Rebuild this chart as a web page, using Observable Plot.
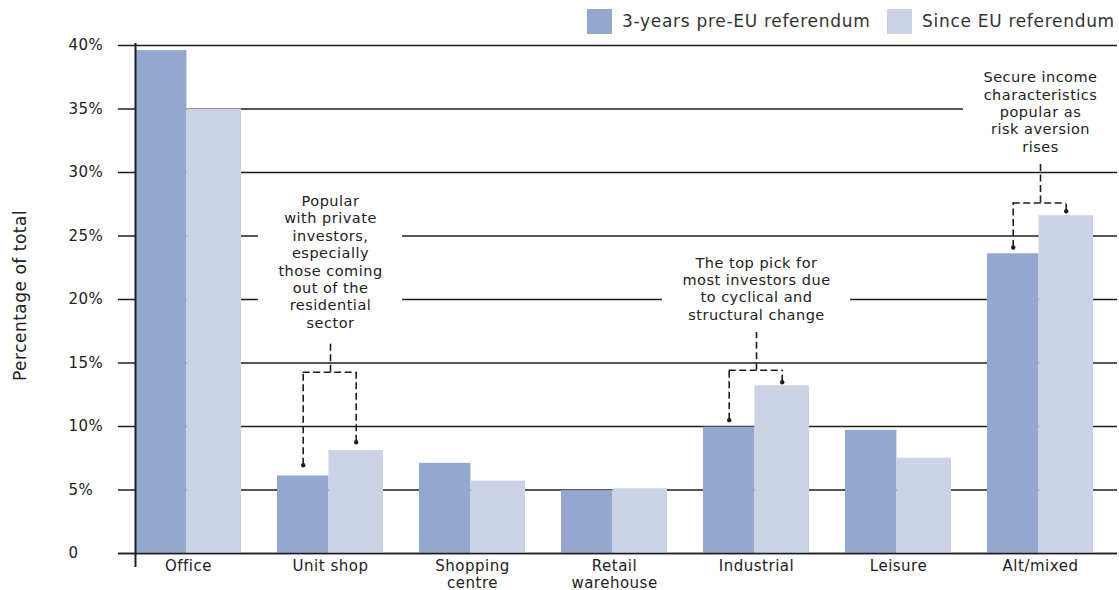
<!DOCTYPE html>
<html>
<head>
<meta charset="utf-8">
<script src="https://cdn.jsdelivr.net/npm/d3@7"></script>
<script src="https://cdn.jsdelivr.net/npm/@observablehq/plot@0.6"></script>
<style>
  body { margin: 0; background: #fff; font-family: "DejaVu Sans", sans-serif; }
  #wrap { position: relative; width: 1119px; height: 590px; }
  #legend { position: absolute; left: 0; top: 0; width: 1119px; height: 40px; z-index: 2; }
  .sw { position: absolute; top: 9px; width: 25px; height: 25px; }
  .lt { position: absolute; top: 9px; line-height: 25px; font-size: 17px; color: #333; letter-spacing: 0.7px; white-space: nowrap; }
  #chart svg text { letter-spacing: 0.5px; }
</style>
</head>
<body>
<div id="wrap">
<div id="chart"></div>
<div id="legend"></div>
</div>
<script>
// ---- data ----
const categories = ["Office", "Unit shop", "Shopping centre", "Retail warehouse", "Industrial", "Leisure", "Alt/mixed"];
const xLabels = ["Office", "Unit shop", "Shopping\ncentre", "Retail\nwarehouse", "Industrial", "Leisure", "Alt/mixed"];
const seriesNames = ["3-years pre-EU referendum", "Since EU referendum"];
const preEU = [39.6, 6.1, 7.1, 4.95, 9.95, 9.7, 23.6];
const sinceEU = [35.0, 8.1, 5.7, 5.1, 13.2, 7.5, 26.6];
const yTicks = [0, 5, 10, 15, 20, 25, 30, 35, 40];
const yTickLabels = ["0", "5%", "10%", "15%", "20%", "25%", "30%", "35%", "40%"];
const yTitle = "Percentage of total";

const annCategories = ["Unit shop", "Industrial", "Alt/mixed"];
const annTexts = [
  "Popular\nwith private\ninvestors,\nespecially\nthose coming\nout of the\nresidential\nsector",
  "The top pick for\nmost investors due\nto cyclical and\nstructural change",
  "Secure income\ncharacteristics\npopular as\nrisk aversion\nrises"
];
const annTextY = [23.0, 20.9, 34.8];
const bracketTop = [16.55, 17.4, 30.7];
const bracketY = [14.27, 14.43, 27.6];
const leftArrowEnd = [6.95, 10.5, 24.1];
const rightArrowEnd = [8.76, 13.49, 26.95];

const colors = ["#94a8cf", "#cbd2e6"];

// ---- tables ----
const bars = categories.map((c, i) => ({category: c, pre: preEU[i], since: sinceEU[i]}));
const ann = annCategories.map((c, i) => ({
  category: c, text: annTexts[i], ty: annTextY[i],
  top: bracketTop[i], mid: bracketY[i], left: leftArrowEnd[i], right: rightArrowEnd[i]
}));

// ---- legend ----
const legend = document.getElementById("legend");
const legendPos = [[587, 622], [887, 922]];
seriesNames.forEach((name, i) => {
  const sw = document.createElement("div");
  sw.className = "sw"; sw.style.left = legendPos[i][0] + "px"; sw.style.background = colors[i];
  const t = document.createElement("div");
  t.className = "lt"; t.style.left = legendPos[i][1] + "px"; t.textContent = name;
  legend.appendChild(sw); legend.appendChild(t);
});

// ---- chart ----
const W = 1119, H = 590;
const annFont = 14.5, annLine = 1.2, letterSp = 0.5;
const base = {
  width: W, height: H, marginLeft: 135, marginRight: 2, marginTop: 45, marginBottom: 37,
  x: {domain: categories, paddingInner: 0.255, paddingOuter: 0, insetRight: 24, axis: null},
  y: {domain: [0, 40], axis: null},
  style: {fontFamily: "DejaVu Sans, sans-serif", fontSize: "15px", color: "#222", background: "#fff"}
};
const probe = Plot.plot({...base, marks: [Plot.barY(bars, {x: "category", y: "pre"})]});
const bw = probe.scale("x").bandwidth;
const darkW = bw * 0.485, lightW = bw - darkW;
const ink = "#1e1e1e";
const dash = {stroke: ink, strokeWidth: 1.6, strokeDasharray: "7,3.5"};

// white backing boxes behind the annotation texts, sized from the text itself
const ctx = document.createElement("canvas").getContext("2d");
ctx.font = `${annFont}px "DejaVu Sans"`;
const boxMarks = ann.map(a => {
  const lines = a.text.split("\n");
  const textW = Math.max(...lines.map(l => ctx.measureText(l).width + l.length * letterSp));
  const boxW = textW + 40;
  const boxH = lines.length * annFont * annLine + 8;
  const side = (bw - boxW) / 2;
  return Plot.barY([a], {x: "category", y1: "ty", y2: "ty", fill: "white",
    insetLeft: side, insetRight: side, insetTop: -boxH / 2, insetBottom: -boxH / 2});
});

const chart = Plot.plot({
  ...base,
  marks: [
    Plot.ruleY(yTicks, {y: d => d, stroke: ink, strokeWidth: 1.5, insetLeft: -17}),
    Plot.barY(bars, {x: "category", y: "pre", fill: colors[0], insetRight: lightW}),
    Plot.barY(bars, {x: "category", y: "since", fill: colors[1], insetLeft: darkW}),
    Plot.ruleY([0], {y: d => d, stroke: ink, strokeWidth: 1.6, insetLeft: -17}),
    Plot.ruleX([categories[0]], {x: d => d, dx: -bw / 2, y1: -1.1, y2: 40.15, stroke: ink, strokeWidth: 2}),
    Plot.text(yTicks, {y: d => d, text: (d, i) => yTickLabels[i], frameAnchor: "left", dx: -67, textAnchor: "start", fontSize: 15, fill: "#222"}),
    Plot.text(categories, {x: d => d, text: (d, i) => xLabels[i], frameAnchor: "bottom", lineAnchor: "top", dy: 6, fontSize: 15, fill: "#222", lineHeight: 1.12}),
    Plot.text([yTitle], {frameAnchor: "left", textAnchor: "middle", dx: -115, dy: -4, rotate: -90, fontSize: 17, fill: "#222"}),
    ...boxMarks,
    Plot.text(ann, {x: "category", y: "ty", text: "text", fontSize: annFont, lineHeight: annLine, fill: "#222"}),
    Plot.ruleX(ann, {x: "category", y1: "mid", y2: "top", ...dash}),
    Plot.ruleY(ann, {y: "mid", x1: "category", x2: "category", insetLeft: darkW / 2, insetRight: lightW / 2, ...dash}),
    Plot.ruleX(ann, {x: "category", y1: "left", y2: "mid", dx: -bw / 2 + darkW / 2, ...dash}),
    Plot.ruleX(ann, {x: "category", y1: "right", y2: "mid", dx: bw / 2 - lightW / 2, ...dash}),
    Plot.dot(ann, {x: "category", y: "left", dx: -bw / 2 + darkW / 2, r: 2.2, fill: ink}),
    Plot.dot(ann, {x: "category", y: "right", dx: bw / 2 - lightW / 2, r: 2.2, fill: ink})
  ]
});
document.getElementById("chart").appendChild(chart);
</script>
</body>
</html>
